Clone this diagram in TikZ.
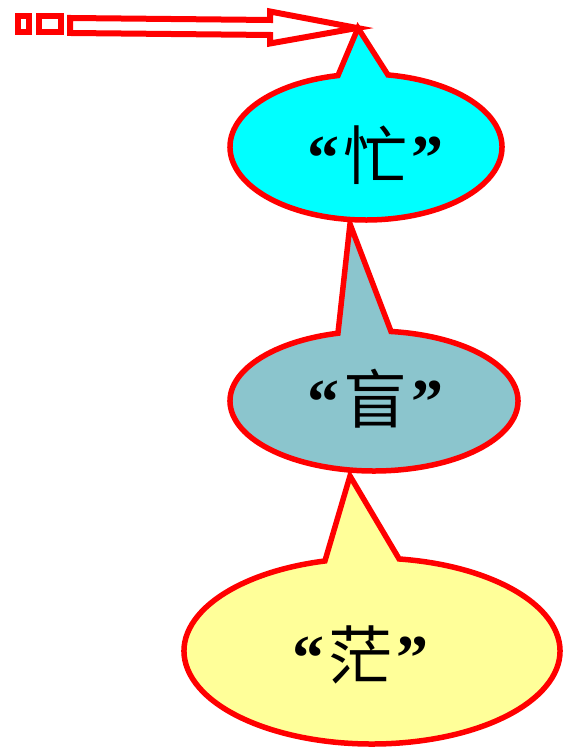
\documentclass[tikz,border=0pt]{standalone}
\usepackage{fontspec}
\newfontfamily\cjk{Noto Sans CJK SC}
\newfontfamily\qfont{Liberation Serif}
\definecolor{calloutred}{RGB}{255,0,0}
\definecolor{cyanfill}{RGB}{0,255,255}
\definecolor{grayblue}{RGB}{139,197,205}
\definecolor{paleyellow}{RGB}{255,255,153}
\newcommand{\openq}{{\qfont\bfseries “}\hspace{4pt}}
\newcommand{\closeq}{\hspace{4pt}{\qfont\bfseries ”}}
\begin{document}
\begin{tikzpicture}[x=1pt,y=1pt,
  callout/.style={draw=calloutred,line width=5.5pt,line join=miter},
  arrowshape/.style={draw=calloutred,line width=6pt,fill=white,line join=miter},
  label/.style={inner sep=0pt,font=\fontsize{64}{64}\selectfont}]
\useasboundingbox (0,0) rectangle (562,749);
% striped block arrow
\draw[arrowshape] (17.5,732.5) rectangle (28.5,716.5);
\draw[arrowshape] (38.5,732.5) rectangle (60.5,716.5);
\draw[arrowshape] (70,731) -- (270,729) -- (270,737.5) -- (357,721) -- (270,705.5) -- (270,714) -- (70,716) -- cycle;
% callout 3 (yellow)
\coordinate (c3) at (372,98);
\coordinate (p3) at (350,273);
\filldraw[callout,fill=paleyellow] (p3) -- ([shift={(c3)}]104.5:188pt and 93pt)
  arc[start angle=104.5,end angle=441.7,x radius=188pt,y radius=93pt] -- cycle;
% callout 2 (gray blue)
\coordinate (c2) at (374,348);
\coordinate (p2) at (350,525);
\filldraw[callout,fill=grayblue] (p2) -- ([shift={(c2)}]104.5:144pt and 70pt)
  arc[start angle=104.5,end angle=443.2,x radius=144pt,y radius=70pt] -- cycle;
% callout 1 (cyan)
\coordinate (c1) at (366,602);
\coordinate (p1) at (358,721);
\filldraw[callout,fill=cyanfill] (p1) -- ([shift={(c1)}]101.9:136pt and 73pt)
  arc[start angle=101.9,end angle=440.7,x radius=136pt,y radius=73pt] -- cycle;
% labels
\node[label] (t1) at (375,594) {\openq{\cjk 忙}\closeq};
\node[label] (t2) at (375,350) {\openq{\cjk 盲}\closeq};
\node[label] (t3) at (360,94) {\openq{\cjk 茫}\closeq};
\end{tikzpicture}
\end{document}
